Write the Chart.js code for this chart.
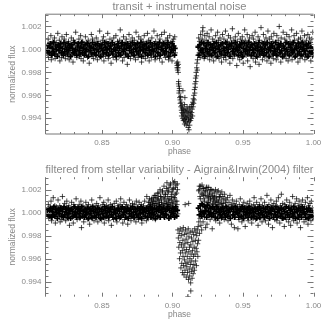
<!DOCTYPE html>
<html lang="en">
<head>
  <meta charset="UTF-8">
  <title>Transit light curves</title>
  <script src="https://cdn.jsdelivr.net/npm/chart.js"></script>
  <style>
    html, body { margin: 0; padding: 0; background: #fff; }
    .panel { position: absolute; left: 0; width: 327px; height: 163px; }
    #topPanel { top: 0; }
    #bottomPanel { top: 163px; }
  </style>
</head>
<body>
  <div class="panel" id="topPanel"><canvas id="topChart" width="327" height="163"></canvas></div>
  <div class="panel" id="bottomPanel"><canvas id="bottomChart" width="327" height="164"></canvas></div>
  <script>
    // phase and flux values, both stored in units of 1e-4
    // flux is the offset from 1.0000
    const topPhase = [
      8112,8115,8119,8122,8127,8130,8133,8138,8141,8146,8149,8152,8157,8160,8164,8168,8171,8176,8179,8183,
      8187,8190,8195,8198,8202,8206,8209,8214,8217,8221,8225,8229,8233,8236,8241,8244,8248,8252,8256,8260,
      8263,8268,8271,8275,8279,8283,8287,8290,8295,8298,8302,8306,8310,8314,8317,8322,8325,8329,8333,8337,
      8341,8344,8349,8352,8356,8360,8364,8368,8371,8376,8379,8383,8387,8391,8395,8398,8403,8406,8410,8414,
      8418,8422,8425,8430,8433,8437,8441,8445,8449,8452,8457,8460,8464,8468,8472,8476,8479,8484,8487,8491,
      8495,8499,8503,8506,8511,8514,8518,8522,8526,8530,8533,8538,8541,8545,8549,8553,8557,8560,8565,8568,
      8572,8576,8580,8584,8587,8592,8595,8599,8603,8607,8611,8614,8619,8622,8626,8630,8634,8638,8641,8646,
      8649,8653,8657,8661,8665,8668,8673,8676,8680,8684,8688,8692,8695,8700,8703,8707,8711,8715,8719,8722,
      8727,8730,8734,8738,8742,8746,8749,8754,8757,8761,8765,8769,8773,8776,8781,8784,8788,8792,8796,8800,
      8803,8808,8811,8815,8819,8823,8827,8830,8835,8838,8842,8846,8850,8854,8857,8862,8865,8869,8873,8877,
      8881,8884,8889,8892,8896,8900,8904,8908,8911,8916,8919,8923,8927,8931,8935,8938,8943,8946,8950,8954,
      8958,8962,8965,8970,8973,8977,8981,8985,8989,8992,8997,9000,9004,9008,9012,9016,9020,
      9030,9034,9037,9040,9036,9042,9033,9041,9044,9046,9043,9048,9050,9047,9052,9055,9056,9058,9060,9062,
      9064,9066,9065,9068,9070,9072,9074,9076,9078,9080,9082,9084,9086,9086,9088,9090,9092,9094,9096,9098,
      9100,9102,9104,9106,9108,9110,9112,9114,9116,9118,9117,9120,9122,9124,9126,9128,9130,9132,9134,9136,
      9138,9140,9142,9144,9146,9148,9150,9152,9154,9156,9158,9160,9162,9164,9166,9168,9170,9172,9174,9176,
      9178,9074,9088,
      9180,9183,9186,9190,9193,9197,9200,9204,9207,9211,9214,9216,9218,9222,9225,9229,9232,9236,9239,9243,
      9246,9250,9253,9257,9260,9264,9267,9271,9274,9278,9281,9285,9288,9292,9295,9299,9302,9306,9309,9313,
      9316,9320,9323,9327,9330,9334,9337,9341,9344,9348,9351,9355,9358,9362,9365,9369,9372,9376,9379,9383,
      9386,9390,9393,9397,9400,9404,9407,9411,9414,9418,9421,9425,9428,9432,9435,9439,9442,9446,9449,9453,
      9456,9460,9463,9467,9470,9474,9477,9481,9484,9488,9491,9495,9498,9502,9505,9509,9512,9516,9519,9523,
      9526,9530,9533,9537,9540,9544,9547,9551,9554,9558,9561,9565,9568,9572,9575,9579,9582,9586,9589,9593,
      9596,9600,9603,9607,9610,9614,9617,9621,9624,9628,9631,9635,9638,9642,9645,9649,9652,9656,9659,9663,
      9666,9670,9673,9677,9680,9684,9687,9691,9694,9698,9701,9705,9708,9712,9715,9719,9722,9726,9729,9733,
      9736,9740,9743,9747,9750,9754,9757,9761,9764,9768,9771,9775,9778,9782,9785,9789,9792,9796,9799,9803,
      9806,9810,9813,9817,9820,9824,9827,9831,9834,9838,9841,9845,9848,9852,9855,9859,9862,9866,9869,9873,
      9876,9880,9883,9887,9890,9894,9897,9901,9904,9908,9911,9915,9918,9922,9925,9929,9932,9936,9939,9943,
      9946,9950,9953,9957,9960,9964,9967,9971,9974,9978,9981,9985,9988,9992,9995,9998
    ];
    const topFlux = [
      3,-4,9,-7,1,5,-2,12,-9,4,-5,7,0,-3,10,-8,2,6,-1,-6,
      14,3,-4,8,-10,1,5,-7,11,-2,4,-5,9,0,-8,6,13,-3,2,-6,
      7,-9,1,4,-1,10,-5,3,-11,8,0,-4,6,15,-2,-7,5,2,-3,9,
      -6,1,12,-8,4,-1,7,-10,3,-4,0,11,-5,6,2,-7,8,-2,-12,5,
      1,-3,13,-6,9,4,-8,0,6,-1,-4,10,3,-9,7,-2,2,16,-5,5,
      -7,1,8,-3,11,-10,4,0,-6,7,2,-1,14,-8,5,-4,9,3,-12,1,
      6,-2,-7,10,4,0,-5,12,-9,2,7,-3,1,-6,8,17,-4,5,-1,-10,
      3,11,-7,0,6,-3,9,2,-13,-5,4,13,-1,7,-8,1,-4,10,5,-2,
      -6,8,3,-9,15,0,-3,6,-7,11,2,-5,4,9,-11,1,-2,7,-6,12,
      3,-8,5,-1,0,14,-4,8,-10,2,6,-3,-7,10,4,-1,-5,16,1,-9,
      7,3,-2,12,-6,5,0,-8,9,-4,2,13,-11,6,-1,-3,15,4,-7,8,
      1,-5,10,-2,-9,3,12,-6,6,-1,-10,7,2,9,-5,11,-3,
      -12,-14,-11,-16,-18,-13,-16,-20,-28,-32,-30,-36,-34,-38,-42,-44,-47,-41,-50,-46,
      -53,-49,-58,-55,-51,-60,-56,-52,-62,-57,-53,-61,-48,-65,-58,-54,-63,-59,-52,-66,
      -60,-55,-50,-64,-58,-53,-68,-61,-56,-63,-70,-51,-66,-59,-54,-62,-57,-50,-60,-55,
      -48,-52,-58,-46,-50,-43,-47,-40,-44,-35,-38,-30,-33,-25,-28,-20,-23,-16,-12,-18,
      -9,-36,-42,
      -5,3,10,-3,7,-7,13,1,-4,9,16,19,-1,6,-8,12,2,-5,8,-2,
      14,-6,4,0,11,-9,5,-3,17,1,-6,9,-1,-10,7,3,-4,12,-7,5,
      0,15,-2,8,-8,2,10,-5,6,-11,4,13,-1,-7,9,1,-3,16,-9,5,
      -2,7,0,12,-6,3,-12,10,-4,6,1,18,-8,-1,8,-5,4,11,-3,2,
      -14,7,-6,14,0,5,-9,9,-2,3,-7,11,1,-12,6,-4,17,8,-1,-5,
      4,13,-10,0,7,-3,10,-15,2,-6,5,12,-1,-8,9,3,-4,15,-11,6,
      1,-2,-7,11,4,-13,8,0,-5,19,-3,6,-9,2,13,-1,7,-6,3,10,
      -4,-10,5,16,0,-7,9,-2,4,-12,11,1,-5,7,-8,14,-1,3,-3,6,
      -9,12,2,-6,8,0,20,-4,5,-11,10,-2,3,-7,15,1,-5,9,-1,4,
      -8,13,6,-3,-10,2,11,-6,7,0,-4,17,-9,5,1,-2,12,8,-7,3,
      -5,14,-1,6,-11,9,2,-3,-8,10,4,0,16,-6,7,-4,1,12,-9,5,
      -2,8,-7,3,13,-5,0,10,-3,6,-10,2,9,-6,15,-1
    ];
    // dense black middle of the top band
    const topCorePhase = [
      8113,8118,8125,8129,8136,8142,8147,8154,8159,8166,8172,8177,8184,8189,8196,8201,8207,8213,8219,8226,
      8231,8237,8243,8249,8255,8261,8266,8273,8278,8285,8291,8296,8303,8308,8315,8320,8327,8332,8339,8345,
      8350,8357,8362,8369,8375,8380,8386,8392,8399,8404,8411,8416,8423,8429,8434,8440,8446,8453,8458,8465,
      8470,8477,8482,8489,8494,8500,8507,8512,8519,8524,8531,8536,8543,8548,8555,8561,8566,8573,8578,8585,
      8590,8597,8602,8609,8615,8620,8627,8632,8639,8644,8651,8656,8663,8669,8674,8681,8686,8693,8698,8705,
      8710,8717,8723,8728,8735,8740,8747,8752,8759,8764,8771,8777,8782,8789,8794,8801,8806,8813,8818,8825,
      8831,8836,8843,8848,8855,8860,8867,8872,8879,8885,8890,8897,8902,8909,8914,8921,8926,8933,8939,8944,
      8951,8956,8963,8968,8975,8980,8987,8993,8998,9005,9010,9015,9018,
      9182,9188,9194,9199,9205,9210,9217,9223,9228,9235,9240,9247,9252,9259,9265,9270,9277,9282,9289,9294,
      9301,9307,9312,9319,9324,9331,9336,9343,9348,9354,9361,9366,9373,9378,9385,9391,9396,9402,9408,9415,
      9420,9427,9433,9438,9445,9450,9457,9462,9469,9475,9480,9487,9492,9499,9504,9511,9517,9522,9529,9534,
      9541,9546,9553,9559,9564,9571,9576,9583,9588,9595,9601,9606,9613,9618,9625,9630,9637,9643,9648,9655,
      9660,9667,9672,9679,9685,9690,9697,9702,9709,9714,9721,9727,9732,9739,9744,9751,9756,9763,9769,9774,
      9781,9786,9793,9798,9805,9811,9816,9823,9828,9835,9840,9847,9853,9858,9865,9870,9877,9882,9889,9895,
      9900,9907,9912,9919,9924,9931,9937,9942,9949,9954,9961,9966,9973,9979,9984,9991,9996
    ];
    const topCoreFlux = [
      -1,4,-3,2,5,-5,1,-2,6,-4,3,0,-6,4,-1,2,5,-3,1,-5,
      6,-2,3,0,-4,5,-1,2,-6,4,1,-3,6,-2,0,-5,3,5,-1,-4,
      2,6,-3,1,-5,4,-2,0,5,-6,3,-1,2,-4,6,1,-3,4,-5,0,
      5,-2,3,-6,1,4,-1,-4,6,2,-3,0,5,-5,1,3,-2,6,-4,0,
      4,-1,-6,2,5,-3,1,-5,3,6,-2,0,4,-4,1,5,-6,2,-1,3,
      -3,6,0,-5,4,1,-2,5,-4,2,-1,6,-6,3,0,4,-3,1,5,-5,
      2,-1,6,-4,3,0,-2,5,-6,1,4,-3,2,6,-5,0,3,-1,5,-4,
      1,-2,4,6,-6,2,-3,0,5,-1,3,-5,1,
      2,-5,4,-1,6,0,-3,5,-6,1,3,-2,6,-4,0,4,-5,2,-1,5,
      -3,1,6,-6,3,0,-2,4,-4,5,1,-1,-5,6,2,-3,0,4,-6,3,
      5,-2,1,-4,6,0,3,-1,-5,2,4,-3,6,-6,1,5,-2,0,3,-4,
      6,-1,2,-5,4,0,-3,5,1,-6,3,-1,6,-4,2,0,-2,5,-5,1,
      4,-3,6,0,-6,2,-1,5,3,-4,1,-2,6,-5,0,4,2,-3,5,-1,
      -6,3,1,-4,6,0,-2,5,-5,2,4,-1,-3,6,0,-6,3,1,-4,5,
      -2,2,-5,6,0,3,-1,-4,4,1,-6,5,-2,2,-3,0,-5
    ];

    const bottomPhase = [
      8112,8116,8120,8123,8128,8131,8135,8139,8143,8147,8150,8155,8158,8162,8166,8170,8174,8177,8182,8185,
      8189,8193,8197,8201,8204,8209,8212,8216,8220,8224,8228,8231,8236,8239,8243,8247,8251,8255,8258,8263,
      8266,8270,8274,8278,8282,8285,8290,8293,8297,8301,8305,8309,8312,8317,8320,8324,8328,8332,8336,8339,
      8344,8347,8351,8355,8359,8363,8366,8371,8374,8378,8382,8386,8390,8393,8398,8401,8405,8409,8413,8417,
      8420,8425,8428,8432,8436,8440,8444,8447,8452,8455,8459,8463,8467,8471,8474,8479,8482,8486,8490,8494,
      8498,8501,8506,8509,8513,8517,8521,8525,8528,8533,8536,8540,8544,8548,8552,8555,8560,8563,8567,8571,
      8575,8579,8582,8587,8590,8594,8598,8602,8606,8609,8614,8617,8621,8625,8629,8633,8636,8641,8644,8648,
      8652,8656,8660,8663,8668,8671,8675,8679,8683,8687,8690,8695,8698,8702,8706,8710,8714,8717,8722,8725,
      8729,8733,8737,8741,8744,8749,8752,8756,8760,8764,8768,8771,8776,8779,8783,8787,8791,8795,8798,8803,
      8810,8815,8818,8822,8826,8830,8833,8837,8840,8843,8846,8849,8852,8855,8858,8861,8864,8867,8870,8873,
      8876,8879,8882,8885,8888,8891,8894,8897,8900,8903,8906,8909,8912,8915,8918,8921,8924,8927,8930,8933,
      8936,8939,8942,8945,8948,8951,8954,8957,8960,8963,8966,8969,8972,8975,8978,8981,8984,8987,8990,8993,
      8996,8999,9002,9005,9008,9011,9014,9017,9020,9023,9026,9029,9032,9035,9038,
      9039,9042,9045,9048,9050,9052,9055,9057,9060,9062,9064,9066,9068,9070,9072,9074,9075,9077,9079,9081,
      9082,9084,9086,9088,9089,9091,9093,9095,9097,9098,9100,9102,9103,9105,9107,9109,9110,9112,9114,9116,
      9117,9119,9121,9122,9124,9126,9127,9129,9130,9132,9134,9135,9137,9139,9140,9142,9144,9145,9147,9149,
      9150,9152,9154,9156,9158,9160,9162,9164,9166,9168,9170,9172,9174,9176,9178,9180,9090,9115,9110,9130,
      9182,9185,9187,9190,9192,9195,9197,9200,9202,9205,9207,9210,9212,9215,9217,9220,9222,9225,9227,9230,
      9232,9235,9237,9240,9242,9245,9247,9250,9252,9255,9257,9260,9262,9265,9267,9270,9272,9275,9277,9280,
      9282,9285,9287,9290,9292,9295,9297,9300,9302,9305,9307,9310,9312,9315,9317,9320,9322,9325,9327,9330,
      9332,9335,9337,9340,9342,9345,9347,9350,9352,9355,9357,9360,9362,9365,9367,9370,9372,9375,9377,9380,
      9383,9387,9390,9394,9397,9401,9404,9408,9411,9415,9418,9422,9425,9429,9432,9436,9439,9443,9446,9450,
      9453,9457,9460,9464,9467,9471,9474,9478,9481,9485,9488,9492,9495,9499,9502,9506,9509,9513,9516,9520,
      9523,9527,9530,9534,9537,9541,9544,9548,9551,9555,9558,9562,9565,9569,9572,9576,9579,9583,9586,9590,
      9593,9597,9600,9604,9607,9611,9614,9618,9621,9625,9628,9632,9635,9639,9642,9646,9649,9653,9656,9660,
      9663,9667,9670,9674,9677,9681,9684,9688,9691,9695,9698,9702,9705,9709,9712,9716,9719,9723,9726,9730,
      9733,9737,9740,9744,9747,9751,9754,9758,9761,9765,9768,9772,9775,9779,9782,9786,9789,9793,9796,9800,
      9803,9807,9810,9814,9817,9821,9824,9828,9831,9835,9838,9842,9845,9849,9852,9856,9859,9863,9866,9870,
      9873,9877,9880,9884,9887,9891,9894,9898,9901,9905,9908,9912,9915,9919,9922,9926,9929,9933,9936,9940,
      9943,9947,9950,9954,9957,9961,9964,9968,9971,9975,9978,9982,9985,9989,9992,9996
    ];
    const bottomFlux = [
      2,-3,7,-5,1,4,-2,10,-7,3,-4,13,0,-2,6,-9,2,5,-1,-5,
      11,3,-3,6,-8,1,4,-6,14,-2,3,-4,8,0,-7,5,10,-3,2,-5,
      6,-11,1,3,-1,9,-4,2,-9,7,0,-3,5,12,-2,-6,4,1,-3,7,
      -5,1,10,-13,3,-1,6,-8,2,-4,0,9,-4,5,1,-6,7,-2,-10,4,
      1,-3,11,-5,6,3,-7,0,5,-1,-3,8,2,-8,6,-2,1,13,-4,4,
      -6,1,7,-3,9,-9,3,0,-5,6,2,-1,11,-7,4,-3,7,2,-11,1,
      5,-2,-6,8,3,0,-4,10,-8,2,6,-3,1,-5,7,12,-3,4,-1,-9,
      3,9,-6,0,5,-3,7,2,-10,-4,3,11,-1,6,-7,1,-3,8,4,-2,
      -5,7,3,-8,10,0,-3,5,-6,9,2,-4,3,7,-9,1,-2,6,-5,10,
      3,-7,14,-1,5,9,-4,12,1,7,-3,4,11,-2,8,-5,13,2,6,-1,
      10,-6,15,3,8,-3,12,1,6,17,-4,9,4,14,-2,11,7,1,19,5,
      -3,13,8,2,16,-1,10,21,4,7,14,-2,18,9,3,12,24,6,-4,11,
      16,1,20,8,26,5,13,-3,22,10,3,17,7,25,-1,
      -15,-22,-30,-18,-40,-26,-14,-35,-48,-20,-28,-44,-16,-33,-52,-24,-38,-13,-46,-30,
      -54,-19,-41,-27,-50,-35,-15,-44,-23,-56,-32,-47,-18,-38,-52,-26,-43,-14,-58,-34,
      -21,-49,-30,-55,-40,-17,-45,-61,-28,-36,-51,-22,-42,-57,-16,-33,-48,-25,-53,-38,
      -19,-45,-30,-50,-14,-36,-24,-42,-17,-31,-46,-20,-34,-15,-27,-38,7,8,-73,-68,
      -12,-24,-8,20,-18,14,-5,23,-11,8,-15,24,2,16,-8,21,6,12,-4,18,
      1,-13,15,22,4,-10,9,19,-3,13,22,0,7,16,-6,11,20,3,-2,14,
      -14,8,19,5,12,-4,17,2,9,20,-7,14,1,6,18,-3,10,19,4,-1,
      13,-9,7,16,2,11,-5,18,5,-2,14,8,0,12,-6,16,3,9,-3,11,
      -1,6,13,-7,4,9,-3,15,1,7,-10,5,11,-2,3,8,-13,6,-4,2,
      10,-1,5,-14,3,-6,7,0,12,-3,4,-8,1,6,-2,9,-5,3,-12,0,
      5,-3,8,1,-7,4,-1,10,-4,2,6,-9,0,3,-5,7,13,-2,4,-6,
      1,9,-3,5,-11,2,-1,7,-5,3,12,0,-8,6,-2,4,-4,9,1,-7,
      5,-1,15,-3,3,-10,7,0,-5,4,11,-2,2,-13,6,-4,8,1,-6,3,
      -2,10,-7,5,0,13,-3,2,-9,6,-1,16,-5,3,8,-4,1,-12,7,-2,
      4,-6,11,0,-3,5,-8,2,9,-1,-11,6,3,-4,14,1,-7,5,-2,8,
      -5,3,12,-9,0,6,-3,10,-6,2,-13,7,-1,4,11,-4,1,-8,5,-2,
      9,-6,3,-1,13,-10,6,0,-4,8,2,-7,10,-3,4,-5
    ];
    // dense black middle of the bottom band
    const bottomCorePhase = [
      8113,8118,8125,8129,8136,8142,8147,8154,8159,8166,8172,8177,8184,8189,8196,8201,8207,8213,8219,8226,
      8231,8237,8243,8249,8255,8261,8266,8273,8278,8285,8291,8296,8303,8308,8315,8320,8327,8332,8339,8345,
      8350,8357,8362,8369,8375,8380,8386,8392,8399,8404,8411,8416,8423,8429,8434,8440,8446,8453,8458,8465,
      8470,8477,8482,8489,8494,8500,8507,8512,8519,8524,8531,8536,8543,8548,8555,8561,8566,8573,8578,8585,
      8590,8597,8602,8609,8615,8620,8627,8632,8639,8644,8651,8656,8663,8669,8674,8681,8686,8693,8698,8705,
      8710,8717,8723,8728,8735,8740,8747,8752,8759,8764,8771,8777,8782,8789,8794,8801,8806,8813,8818,8825,
      8831,8836,8843,8848,8855,8860,8867,8872,8879,8885,8890,8897,8902,8909,8914,8921,8926,8933,8939,8944,
      8951,8956,8963,8968,8975,8980,8987,8993,8998,9005,9010,9015,9018,9024,9030,9035,
      9184,9190,9196,9201,9207,9212,9219,9225,9230,9237,9242,9249,9254,9261,9267,9272,9279,9284,9291,9296,
      9303,9309,9314,9321,9326,9333,9338,9345,9350,9356,9363,9368,9375,9380,9387,9393,9398,9404,9410,9417,
      9422,9429,9435,9440,9447,9452,9459,9464,9471,9477,9482,9489,9494,9501,9506,9513,9519,9524,9531,9536,
      9543,9548,9555,9561,9566,9573,9578,9585,9590,9597,9603,9608,9615,9620,9627,9632,9639,9645,9650,9657,
      9662,9669,9674,9681,9687,9692,9699,9704,9711,9716,9723,9729,9734,9741,9746,9753,9758,9765,9771,9776,
      9783,9788,9795,9800,9807,9813,9818,9825,9830,9837,9842,9849,9855,9860,9867,9872,9879,9884,9891,9897,
      9902,9909,9914,9921,9926,9933,9939,9944,9951,9956,9963,9968,9975,9981,9986,9993,9997
    ];
    const bottomCoreFlux = [
      -1,3,-3,2,4,-4,1,-2,5,-3,3,0,-5,3,-1,2,4,-3,1,-4,
      5,-2,3,0,-4,4,-1,2,-5,3,1,-3,5,-2,0,-4,3,4,-1,-4,
      2,5,-3,1,-4,3,-2,0,4,-5,3,-1,2,-4,5,1,-3,3,-4,0,
      4,-2,3,-5,1,3,-1,-4,5,2,-3,0,4,-4,1,3,-2,5,-4,0,
      3,-1,-5,2,4,-3,1,-4,3,5,-2,0,3,-4,1,4,-5,2,-1,3,
      -3,5,0,-4,3,1,-2,4,-4,2,-1,5,-5,3,0,3,-3,1,4,-4,
      2,-1,5,-4,3,0,-2,4,-5,1,3,-3,2,5,-4,0,3,-1,4,-4,
      1,-2,3,5,-5,2,-3,0,4,-1,3,-4,1,5,-3,2,
      4,-2,6,1,-3,7,0,-1,5,2,-4,6,1,-2,4,0,-3,5,-1,3,
      -4,1,5,-5,3,0,-2,3,-4,4,1,-1,-4,5,2,-3,0,3,-5,3,
      4,-2,1,-4,5,0,3,-1,-4,2,3,-3,5,-5,1,4,-2,0,3,-4,
      5,-1,2,-4,3,0,-3,4,1,-5,3,-1,5,-4,2,0,-2,4,-4,1,
      3,-3,5,0,-5,2,-1,4,3,-4,1,-2,5,-4,0,3,2,-3,4,-1,
      -5,3,1,-4,5,0,-2,4,-4,2,3,-1,-3,5,0,-5,3,1,-4,4,
      -2,2,-4,5,0,3,-1,-4,3,1,-5,4,-2,2,-3,0,-4
    ];
    // the two bumps either side of the bottom transit
    const bottomBumpPhase = [
      8835,8841,8848,8854,8860,8866,8872,8878,8884,8889,8895,8901,8907,8912,8918,8923,8929,8934,8940,8945,
      8951,8956,8961,8966,8971,8976,8981,8986,8991,8996,9001,9006,9011,9016,9021,9026,9031,9036,
      9186,9191,9198,9204,9209,9216,9221,9226,9233,9239,9244,9251,9256,9263,9268,9274,9281,9286,9293,9299,
      9306,9312,9319,9326,9333,9341,9349,9358
    ];
    const bottomBumpFlux = [
      6,9,4,12,7,10,15,8,13,5,17,11,7,20,14,9,18,6,23,12,
      16,8,26,19,11,22,7,25,14,18,9,21,13,27,16,24,10,20,
      19,23,12,17,8,21,15,10,19,7,22,14,9,17,12,20,5,15,10,13,
      7,11,4,9,14,3,8,5
    ];

    // axis ranges and ticks, in the plotted units
    const phaseRange = [0.81, 1.0];
    const topFluxRange = [0.99263, 1.00307];
    const bottomFluxRange = [0.9927, 1.00308];
    const phaseTicks = [0.85, 0.90, 0.95, 1.00];
    const phaseMinorTicks = [0.82, 0.83, 0.84, 0.86, 0.87, 0.88, 0.89, 0.91, 0.92, 0.93, 0.94, 0.96, 0.97, 0.98, 0.99];
    const fluxTicks = [0.994, 0.996, 0.998, 1.000, 1.002];
    const fluxMinorTicks = [0.993, 0.9935, 0.9945, 0.995, 0.9955, 0.9965, 0.997, 0.9975, 0.9985, 0.999, 0.9995, 1.0005, 1.001, 1.0015, 1.0025, 1.003];

    const INK = '#777';
    const LABEL = '#888';
    const FONT = '"Liberation Sans"';

    function toPoints(phase, flux) {
      return phase.map((p, i) => ({ x: p / 10000, y: 1 + flux[i] / 10000 }));
    }

    // IDL style ticks pointing into the plot, drawn through the chart's scales
    function inwardTicks(showFrame) {
      return {
        id: 'inwardTicks',
        afterDatasetsDraw(chart) {
          const { ctx, chartArea: a, scales: { x, y } } = chart;
          ctx.save();
          ctx.strokeStyle = INK;
          ctx.lineWidth = 1;
          const seg = (x1, y1, x2, y2) => {
            ctx.beginPath();
            ctx.moveTo(x1, y1);
            ctx.lineTo(x2, y2);
            ctx.stroke();
          };
          seg(a.left, a.top, a.left, a.bottom);
          if (showFrame) {
            seg(a.left, a.top, a.right, a.top);
            seg(a.left, a.bottom, a.right, a.bottom);
          }
          const xTick = (v, len) => {
            const px = Math.round(x.getPixelForValue(v)) + 0.5;
            seg(px, a.bottom, px, a.bottom - len);
            seg(px, a.top, px, a.top + len);
          };
          const yTick = (v, len) => {
            const py = Math.round(y.getPixelForValue(v)) + 0.5;
            seg(a.left, py, a.left + len, py);
            seg(a.right, py, a.right - len, py);
          };
          phaseTicks.forEach(v => xTick(v, 4));
          phaseMinorTicks.forEach(v => xTick(v, 2));
          fluxTicks.forEach(v => yTick(v, 6));
          fluxMinorTicks.forEach(v => yTick(v, 3));
          ctx.restore();
        }
      };
    }

    function markSet(points, weight, colour) {
      return {
        data: points,
        pointStyle: 'cross',
        pointRadius: 2.7,
        pointBorderWidth: weight,
        pointBorderColor: colour,
        backgroundColor: colour
      };
    }

    function makeChart(id, datasets, fluxRange, titleText, bottomPad, xHeight, showFrame) {
      return new Chart(document.getElementById(id), {
        type: 'scatter',
        data: { datasets: datasets },
        plugins: [inwardTicks(showFrame)],
        options: {
          responsive: false,
          animation: false,
          layout: { padding: { left: 8, right: 13.5, top: 0, bottom: bottomPad } },
          plugins: {
            legend: { display: false },
            tooltip: { enabled: false },
            title: {
              display: true,
              fullSize: false,
              text: titleText,
              color: LABEL,
              font: { family: FONT, size: 11.2, weight: 'normal', lineHeight: 1 },
              padding: { top: 1, bottom: 2 }
            }
          },
          scales: {
            x: {
              type: 'linear',
              min: phaseRange[0],
              max: phaseRange[1],
              afterBuildTicks: s => { s.ticks = phaseTicks.map(v => ({ value: v })); },
              afterFit: s => { s.height = xHeight; },
              grid: { display: false, drawTicks: false },
              border: { display: false },
              ticks: {
                color: LABEL,
                padding: 4,
                maxRotation: 0,
                autoSkip: false,
                font: { family: FONT, size: 8 },
                callback: v => v.toFixed(2)
              },
              title: {
                display: true,
                text: 'phase',
                color: LABEL,
                padding: 0,
                font: { family: FONT, size: 8.5 }
              }
            },
            y: {
              type: 'linear',
              min: fluxRange[0],
              max: fluxRange[1],
              afterBuildTicks: s => { s.ticks = fluxTicks.map(v => ({ value: v })); },
              afterFit: s => { s.width = 37.5; },
              grid: { display: false, drawTicks: false },
              border: { display: false },
              ticks: {
                color: LABEL,
                padding: 4,
                autoSkip: false,
                font: { family: FONT, size: 8 },
                callback: v => v.toFixed(3)
              },
              title: {
                display: true,
                text: 'normalized flux',
                color: LABEL,
                padding: 0,
                font: { family: FONT, size: 8.5 }
              }
            }
          }
        }
      });
    }

    const SOFT = 'rgba(0,0,0,0.7)';
    makeChart('topChart',
      [markSet(toPoints(topPhase, topFlux), 1, SOFT), markSet(toPoints(topCorePhase, topCoreFlux), 1.7, '#000')],
      topFluxRange, 'transit + instrumental noise', 6, 23, true);
    makeChart('bottomChart',
      [markSet(toPoints(bottomPhase, bottomFlux), 1, SOFT), markSet(toPoints(bottomCorePhase, bottomCoreFlux), 1.7, '#000'), markSet(toPoints(bottomBumpPhase, bottomBumpFlux), 1, SOFT)],
      bottomFluxRange, 'filtered from stellar variability - Aigrain&Irwin(2004) filter', 7, 23.3, false);
  </script>
</body>
</html>
